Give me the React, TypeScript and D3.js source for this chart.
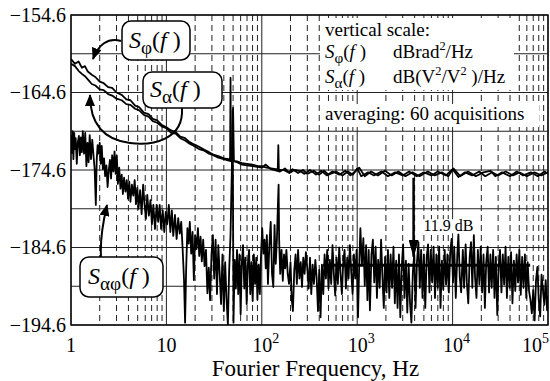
import { useEffect, useRef } from "react";
import * as d3 from "d3";

const yTicks = [-154.6, -164.6, -174.6, -184.6, -194.6];
const yMinorGrid = [-159.6, -169.6, -179.6, -189.6];
const xDecades = [1, 10, 100, 1000, 10000, 100000];
const xMinorSteps = [2, 3, 4, 5, 6, 7, 8, 9];

// [frequency Hz, dB]
const sPhi: [number, number][] = [
  [1, -160.3], [1.1, -160.9], [1.2, -160.6], [1.3, -161.4], [1.4, -161.2], [1.5, -161.9],
  [1.65, -162.3], [1.8, -162.6], [2.0, -163.2], [2.2, -163.4], [2.45, -163.9], [2.7, -164.0],
  [3.0, -164.6], [3.4, -164.9], [3.8, -165.5], [4.2, -165.6], [4.7, -166.3], [5.2, -166.5],
  [5.8, -167.2], [6.5, -167.4], [7.2, -168.0], [8.0, -168.2], [9.0, -168.8], [10, -169.1],
  [11.2, -169.5], [12.5, -169.7], [14, -170.3], [15.7, -170.5], [17.5, -171.0], [19.5, -171.3],
  [22, -171.6], [25, -172.0], [28, -172.3], [31, -172.6], [35, -172.8], [40, -173.1],
  [45, -173.2], [46.5, -173.3], [47, -162.7], [47.5, -173.4], [55, -173.5], [62, -173.7],
  [70, -173.8], [80, -173.9], [90, -174.1], [100, -174.1], [112, -174.3], [125, -174.4],
  [140, -174.5], [147, -174.5], [149, -171.4], [151, -174.6], [170, -174.6], [190, -174.9],
  [210, -174.5], [240, -175.0], [270, -174.6], [300, -175.1], [350, -174.7], [400, -175.2],
  [450, -174.7], [500, -175.2], [600, -174.8], [700, -175.3], [800, -174.8], [900, -175.2],
  [1000, -174.4], [1100, -175.4], [1300, -174.9], [1500, -175.3], [1800, -174.8], [2100, -175.4],
  [2500, -174.9], [3000, -175.3], [3500, -174.8], [4200, -175.4], [5000, -174.9], [6000, -175.3],
  [7000, -174.8], [8500, -175.3], [10000, -174.5], [11500, -175.5], [13500, -174.9], [16000, -175.3],
  [19000, -174.8], [22000, -175.4], [26000, -174.9], [30000, -175.3], [36000, -174.8], [43000, -175.3],
  [50000, -174.9], [60000, -175.4], [72000, -174.9], [85000, -175.3], [100000, -174.9],
];

const sAlpha: [number, number][] = [
  [1, -160.9], [1.1, -161.2], [1.2, -161.8], [1.3, -162.2], [1.4, -162.5], [1.5, -162.9],
  [1.65, -163.5], [1.8, -163.7], [2.0, -164.2], [2.2, -164.3], [2.45, -164.8], [2.7, -165.0],
  [3.0, -165.4], [3.4, -165.6], [3.8, -166.1], [4.2, -166.2], [4.7, -166.7], [5.2, -166.9],
  [5.8, -167.5], [6.5, -167.7], [7.2, -168.3], [8.0, -168.5], [9.0, -169.0], [10, -169.2],
  [11.2, -169.8], [12.5, -169.9], [14, -170.5], [15.7, -170.8], [17.5, -171.2], [19.5, -171.5],
  [22, -171.9], [25, -172.1], [28, -172.5], [31, -172.7], [35, -173.0], [40, -173.2],
  [45, -173.4], [49, -173.5], [50, -166.6], [51, -173.5], [55, -173.6], [62, -173.9],
  [70, -174.0], [80, -174.1], [90, -174.2], [100, -174.3], [110, -173.9], [125, -174.5],
  [155, -174.8], [175, -174.4], [195, -175.0], [220, -174.6], [250, -174.7], [280, -175.1],
  [320, -174.6], [370, -175.2], [420, -174.7], [480, -175.3], [550, -174.8], [650, -175.2],
  [750, -174.7], [850, -175.3], [950, -174.8], [1050, -174.3], [1200, -175.4], [1400, -174.8],
  [1650, -175.3], [1950, -174.7], [2300, -175.3], [2700, -174.8], [3200, -175.4], [3800, -174.9],
  [4500, -175.4], [5500, -174.8], [6500, -175.3], [7700, -174.9], [9000, -175.4], [10200, -174.4],
  [12000, -175.4], [14500, -174.8], [17500, -175.4], [21000, -174.9], [25000, -174.7], [28000, -175.4],
  [33000, -174.9], [40000, -175.4], [47000, -174.8], [55000, -175.3], [66000, -174.9], [78000, -175.4],
  [92000, -174.8], [100000, -175.1],
];

const sAlphaPhi: [number, number][] = [
  [1.0, -170.1], [1.02, -172.4], [1.04, -169.6], [1.06, -173.2], [1.08, -169.8], [1.1, -171.9],
  [1.12, -170.5], [1.15, -173.8], [1.18, -171.0], [1.21, -170.2], [1.24, -172.7], [1.27, -170.4],
  [1.3, -172.3], [1.33, -169.6], [1.37, -172.5], [1.41, -169.8], [1.45, -174.1], [1.49, -171.1],
  [1.53, -173.6], [1.57, -170.1], [1.62, -173.2], [1.67, -170.7], [1.72, -172.7], [1.77, -174.5],
  [1.82, -179.1], [1.86, -173.3], [1.9, -171.4], [1.95, -172.5], [2.0, -171.1], [2.05, -173.8],
  [2.1, -171.5], [2.16, -174.5], [2.22, -173.1], [2.28, -175.4], [2.35, -174.0], [2.42, -176.8],
  [2.49, -174.6], [2.56, -173.3], [2.63, -175.7], [2.7, -172.7], [2.78, -174.8], [2.86, -172.2],
  [2.94, -175.1], [3.02, -172.7], [3.1, -176.4], [3.2, -174.3], [3.3, -177.0], [3.4, -175.2],
  [3.5, -177.7], [3.6, -175.6], [3.72, -177.4], [3.84, -175.9], [3.96, -178.3], [4.08, -176.1],
  [4.2, -178.7], [4.35, -176.5], [4.5, -177.9], [4.65, -175.9], [4.8, -179.0], [4.95, -176.9],
  [5.1, -179.6], [5.3, -177.2], [5.5, -180.3], [5.7, -176.5], [5.9, -179.0], [6.1, -180.9],
  [6.3, -177.8], [6.55, -180.5], [6.8, -178.5], [7.05, -181.6], [7.3, -179.1], [7.6, -182.2],
  [7.9, -179.1], [8.2, -181.3], [8.5, -179.1], [8.8, -182.2], [9.15, -179.8], [9.5, -182.6],
  [9.85, -180.0], [10.2, -181.6], [10.6, -179.1], [11.0, -182.6], [11.4, -179.8], [11.8, -183.1],
  [12.3, -180.4], [12.8, -183.5], [13.3, -180.8], [13.8, -182.8], [14.3, -181.3], [14.8, -184.8],
  [15.3, -188.8], [15.7, -194.3], [16.1, -187.5], [16.6, -182.1], [17.1, -184.1], [17.6, -181.3],
  [18.2, -185.4], [18.8, -182.6], [19.4, -188.8], [20.0, -183.0], [20.7, -184.8], [21.4, -182.1],
  [22.1, -185.7], [22.8, -183.2], [23.5, -186.4], [24.3, -183.6], [25.1, -187.0], [26.0, -184.9],
  [26.9, -190.5], [27.8, -187.2], [28.7, -191.4], [29.7, -185.5], [30.7, -183.0], [31.7, -188.6],
  [32.8, -183.6], [33.9, -190.6], [35.0, -184.3], [36.2, -188.0], [37.4, -191.9], [38.7, -185.5],
  [40.0, -192.8], [41.3, -186.5], [42.7, -191.3], [44.1, -194.5], [45.5, -187.5], [47.0, -183.0],
  [48.5, -174.6], [49.5, -166.9], [50.5, -194.3], [52.0, -186.2], [53.5, -189.9], [55.0, -184.9],
  [56.6, -190.6], [58.3, -185.5], [60.0, -193.2], [61.8, -186.5], [63.6, -184.3], [65.5, -189.9],
  [67.4, -185.9], [69.4, -191.9], [71.4, -186.8], [73.5, -184.9], [75.7, -190.6], [77.9, -186.5],
  [80.2, -191.5], [82.5, -185.5], [85.0, -189.3], [87.5, -185.9], [90.0, -191.3], [92.7, -186.8],
  [95.4, -190.6], [98.2, -185.5], [101, -182.1], [104, -185.4], [107, -183.6], [110, -187.3],
  [113, -183.0], [116, -189.3], [120, -184.3], [124, -181.3], [128, -188.0], [132, -189.7],
  [136, -181.7], [140, -186.7], [144, -183.6], [148, -178.5], [150, -176.5], [152, -183.6],
  [156, -188.0], [161, -184.9], [166, -188.9], [171, -185.5], [176, -187.3], [181, -184.9],
  [187, -188.0], [193, -189.3], [200, -186.5], [206, -191.3], [212, -192.8], [219, -187.5],
  [226, -185.5], [233, -189.3], [240, -184.9], [248, -188.6], [256, -186.5], [264, -189.7],
  [272, -185.9], [281, -188.0], [290, -185.2], [300, -187.3], [310, -189.9], [320, -185.9],
  [330, -190.6], [341, -186.8], [352, -189.3], [364, -186.2], [376, -188.6], [388, -192.8],
  [400, -187.5], [413, -193.6], [427, -186.8], [441, -190.6], [455, -185.5], [470, -188.6],
  [485, -184.9], [500, -189.9], [517, -186.2], [534, -189.3], [551, -184.3], [569, -188.0],
  [588, -190.8], [607, -185.9], [627, -189.3], [648, -184.6], [669, -188.0], [691, -190.6],
  [714, -186.5], [737, -184.9], [761, -189.9], [786, -185.9], [812, -188.6], [839, -184.3],
  [866, -187.8], [895, -190.6], [924, -185.5], [955, -188.6], [986, -184.9], [1020, -193.6],
  [1050, -186.8], [1080, -182.1], [1120, -186.9], [1160, -183.4], [1200, -189.5], [1240, -184.3],
  [1280, -191.4], [1320, -184.9], [1360, -192.7], [1410, -185.5], [1460, -183.6], [1510, -189.1],
  [1560, -184.5], [1610, -191.1], [1660, -186.2], [1720, -189.8], [1780, -183.6], [1840, -188.5],
  [1900, -192.4], [1960, -185.8], [2030, -190.4], [2100, -184.9], [2170, -191.1], [2240, -185.5],
  [2320, -189.8], [2400, -184.5], [2480, -191.8], [2560, -186.3], [2650, -192.4], [2740, -185.5],
  [2830, -193.6], [2930, -187.1], [3030, -184.2], [3130, -191.1], [3240, -186.3], [3350, -193.0],
  [3460, -186.7], [3580, -191.8], [3700, -194.3], [3830, -187.8], [3960, -185.5], [4090, -192.4],
  [4230, -186.5], [4380, -183.9], [4530, -189.8], [4680, -184.9], [4840, -191.1], [5000, -185.5],
  [5170, -192.4], [5350, -185.8], [5530, -184.2], [5720, -190.4], [5910, -184.9], [6110, -189.1],
  [6320, -184.5], [6540, -191.1], [6760, -185.5], [6990, -189.8], [7230, -184.5], [7470, -192.4],
  [7730, -186.3], [7990, -190.0], [8260, -184.9], [8540, -189.4], [8830, -185.5], [9130, -190.4],
  [9440, -185.2], [9760, -183.5], [10100, -189.1], [10400, -184.5], [10800, -191.1], [11200, -185.5],
  [11500, -182.9], [11900, -188.5], [12300, -190.4], [12800, -184.9], [13200, -189.8], [13700, -184.2],
  [14100, -189.1], [14600, -191.8], [15100, -185.8], [15600, -183.9], [16100, -189.8], [16700, -183.0],
  [17200, -188.5], [17800, -191.1], [18400, -184.9], [19100, -189.4], [19700, -184.5], [20400, -190.4],
  [21100, -185.5], [21800, -192.4], [22500, -186.5], [23300, -184.5], [24100, -190.4], [24900, -185.5],
  [25700, -189.8], [26600, -184.9], [27500, -191.1], [28400, -185.8], [29400, -193.3], [30400, -187.1],
  [31400, -184.9], [32500, -190.4], [33600, -185.5], [34700, -189.4], [35900, -184.5], [37100, -191.1],
  [38400, -185.8], [39700, -189.8], [41000, -185.2], [42400, -191.8], [43900, -186.3], [45400, -190.2],
  [46900, -185.5], [48500, -189.1], [50100, -184.9], [51800, -190.7], [53600, -185.8], [55400, -189.8],
  [57300, -185.5], [59200, -191.1], [61200, -186.5], [63300, -190.2], [65500, -191.4], [67700, -193.1],
  [70000, -190.1], [72400, -194.0], [74900, -188.8], [77400, -187.1], [80000, -191.4], [82800, -193.5],
  [85600, -188.1], [88500, -190.1], [91500, -192.0], [94600, -188.8], [97800, -192.7], [100000, -190.8],
];

// mean level of the cross spectrum and the 11.9 dB gap
const avgFreqs = [440, 65000];
const avgLevel = -186.9;
const gapFreq = 3900;
const gapLevels = [-175.6, -185.8];

const serif = "'Liberation Serif', 'DejaVu Serif', 'Times New Roman', serif";

export default function App() {
  const ref = useRef<SVGSVGElement>(null);

  useEffect(() => {
    const width = 550;
    const height = 381;
    const margin = { top: 15, right: 2, bottom: 56, left: 71 };

    const x = d3.scaleLog().domain([1, 100000]).range([margin.left, width - margin.right]);
    const y = d3.scaleLinear().domain([-194.6, -154.6]).range([height - margin.bottom, margin.top]);

    const svg = d3.select(ref.current);
    svg.selectAll("*").remove();

    const defs = svg.append("defs");
    defs.append("marker")
      .attr("id", "head")
      .attr("markerUnits", "userSpaceOnUse")
      .attr("markerWidth", 12).attr("markerHeight", 10)
      .attr("refX", 11).attr("refY", 5)
      .attr("orient", "auto")
      .append("path").attr("d", "M0,0 L12,5 L0,10 Z").attr("fill", "#000");
    defs.append("marker")
      .attr("id", "head2")
      .attr("markerUnits", "userSpaceOnUse")
      .attr("markerWidth", 18).attr("markerHeight", 10)
      .attr("refX", 17).attr("refY", 5)
      .attr("orient", "auto")
      .append("path").attr("d", "M0,0 L18,5 L0,10 Z").attr("fill", "#000");
    defs.append("clipPath").attr("id", "plot")
      .append("rect")
      .attr("x", margin.left).attr("y", margin.top)
      .attr("width", width - margin.left - margin.right)
      .attr("height", height - margin.top - margin.bottom);

    svg.append("rect").attr("width", width).attr("height", height).attr("fill", "#fff");

    const root = svg.append("g").attr("font-family", serif);

    // horizontal grid
    root.append("g")
      .selectAll("line")
      .data([...yTicks, ...yMinorGrid])
      .join("line")
      .attr("x1", margin.left).attr("x2", width - margin.right)
      .attr("y1", d => y(d)).attr("y2", d => y(d))
      .attr("stroke", "#222").attr("stroke-width", 1);

    // vertical grid
    const minor = xDecades.slice(0, -1).flatMap(d => xMinorSteps.map(m => d * m));
    root.append("g")
      .selectAll("line")
      .data(minor)
      .join("line")
      .attr("x1", d => x(d)).attr("x2", d => x(d))
      .attr("y1", margin.top).attr("y2", height - margin.bottom)
      .attr("stroke", "#222").attr("stroke-width", 1)
      .attr("stroke-dasharray", "6,4");
    root.append("g")
      .selectAll("line")
      .data(xDecades)
      .join("line")
      .attr("x1", d => x(d)).attr("x2", d => x(d))
      .attr("y1", margin.top).attr("y2", height - margin.bottom)
      .attr("stroke", "#222").attr("stroke-width", 1);

    // white backing behind the legend text blocks
    root.append("rect").attr("x", 320).attr("y", 18).attr("width", 194).attr("height", 72).attr("fill", "#fff");
    root.append("rect").attr("x", 321).attr("y", 104).attr("width", 218).attr("height", 23).attr("fill", "#fff");

    root.append("rect")
      .attr("x", margin.left).attr("y", margin.top)
      .attr("width", width - margin.left - margin.right)
      .attr("height", height - margin.top - margin.bottom)
      .attr("fill", "none").attr("stroke", "#111").attr("stroke-width", 1.5);

    const line = d3.line<[number, number]>().x(d => x(d[0])).y(d => y(d[1]));
    const curves = root.append("g").attr("clip-path", "url(#plot)");
    [sAlphaPhi, sAlpha, sPhi].forEach(s => {
      curves.append("path")
        .attr("d", line(s))
        .attr("fill", "none")
        .attr("stroke", "#000")
        .attr("stroke-width", 1.8)
        .attr("stroke-linejoin", "round");
    });

    // mean line + gap arrow
    root.append("line")
      .attr("x1", x(avgFreqs[0])).attr("x2", x(avgFreqs[1]))
      .attr("y1", y(avgLevel)).attr("y2", y(avgLevel))
      .attr("stroke", "#000").attr("stroke-width", 3);
    root.append("line")
      .attr("x1", x(gapFreq)).attr("x2", x(gapFreq))
      .attr("y1", y(gapLevels[0])).attr("y2", y(gapLevels[1]))
      .attr("stroke", "#000").attr("stroke-width", 2.5)
      .attr("marker-end", "url(#head2)");
    const gapLabel = root.append("text")
      .attr("x", x(4950)).attr("y", y(-182.5))
      .attr("font-size", 16)
      .text("11.9 dB");
    const bb = (gapLabel.node() as SVGTextElement).getBBox();
    root.insert("rect", () => gapLabel.node())
      .attr("x", bb.x - 1).attr("y", bb.y + 2)
      .attr("width", bb.width + 2).attr("height", bb.height - 3)
      .attr("fill", "#fff");

    const rich = (sel: any, px: number, py: number, size: number, parts: any[]) => {
      const t = sel.append("text").attr("x", px).attr("y", py).attr("font-size", size);
      let shift = 0;
      parts.forEach(p => {
        const off = p.sub ? size * 0.25 : p.sup ? -size * 0.4 : 0;
        const ts = t.append("tspan").text(p.t).attr("dy", off - shift);
        if (p.x !== undefined) ts.attr("x", p.x);
        if (p.italic) ts.attr("font-style", "italic");
        if (p.sub || p.sup) ts.attr("font-size", size * (p.sub ? 0.8 : 0.65));
        shift = off;
      });
      return t;
    };

    // curve labels
    const boxes = [
      { bx: 122, by: 21, bw: 68, bh: 39, tx: 129, ty: 48, sub: "\u03c6" },
      { bx: 143, by: 72, bw: 79, bh: 36, tx: 150, ty: 97, sub: "\u03b1" },
      { bx: 80, by: 257, bw: 83, bh: 40, tx: 88, ty: 284, sub: "\u03b1\u03c6" },
    ];
    boxes.forEach(b => {
      root.append("rect")
        .attr("x", b.bx).attr("y", b.by).attr("width", b.bw).attr("height", b.bh)
        .attr("rx", 9).attr("fill", "#fff").attr("stroke", "#000").attr("stroke-width", 1.5);
      rich(root, b.tx, b.ty, 24, [
        { t: "S", italic: true },
        { t: b.sub, sub: true },
        { t: "(" },
        { t: "f", italic: true },
        { t: " )" },
      ]);
    });

    const arrows = [
      "M121,41 C108,37 98,45 93,59",
      "M182,108 C184,140 152,146 130,143 C106,140 90,126 90,95",
      "M101,257 C100,240 103,222 107,205",
    ];
    root.append("g")
      .selectAll("path")
      .data(arrows)
      .join("path")
      .attr("d", d => d)
      .attr("fill", "none").attr("stroke", "#000").attr("stroke-width", 2)
      .attr("marker-end", "url(#head)");

    // legend text
    const lx = 325;
    root.append("text").attr("x", lx).attr("y", 36).attr("font-size", 19).text("vertical scale:");
    rich(root, lx, 58, 19, [
      { t: "S", italic: true }, { t: "\u03c6", sub: true }, { t: "(" }, { t: "f", italic: true }, { t: " )" },
      { t: "dBrad", x: 393 }, { t: "2", sup: true }, { t: "/Hz" },
    ]);
    rich(root, lx, 83, 19, [
      { t: "S", italic: true }, { t: "\u03b1", sub: true }, { t: "(" }, { t: "f", italic: true }, { t: " )" },
      { t: "dB(V", x: 393 }, { t: "2", sup: true }, { t: "/V" }, { t: "2", sup: true }, { t: " )/Hz" },
    ]);
    root.append("text").attr("x", lx).attr("y", 120).attr("font-size", 19).text("averaging: 60 acquisitions");

    // y tick labels
    root.append("g")
      .selectAll("text")
      .data(yTicks)
      .join("text")
      .attr("x", margin.left - 5)
      .attr("y", d => y(d) + 6.5)
      .attr("text-anchor", "end")
      .attr("font-size", 20)
      .text(d => "\u2212" + Math.abs(d).toFixed(1));

    // x tick labels
    xDecades.forEach((d, i) => {
      const px = x(d);
      const ty = height - margin.bottom + 27;
      if (i < 2) {
        root.append("text").attr("x", px).attr("y", ty).attr("text-anchor", "middle")
          .attr("font-size", 20).text(String(d));
      } else {
        const last = i === xDecades.length - 1;
        const t = root.append("text").attr("y", ty).attr("font-size", 20)
          .attr("x", last ? width - 1 : px + 4)
          .attr("text-anchor", last ? "end" : "middle");
        t.append("tspan").text("10");
        t.append("tspan").text(String(i)).attr("font-size", 14).attr("dy", -9);
      }
    });

    root.append("text")
      .attr("x", (margin.left + width - margin.right) / 2 + 6)
      .attr("y", height - 5)
      .attr("text-anchor", "middle")
      .attr("font-size", 23)
      .text("Fourier Frequency, Hz");
  }, []);

  return (
    <svg
      ref={ref}
      width={550}
      height={381}
      style={{ position: "absolute", left: 0, top: 0 }}
    />
  );
}
